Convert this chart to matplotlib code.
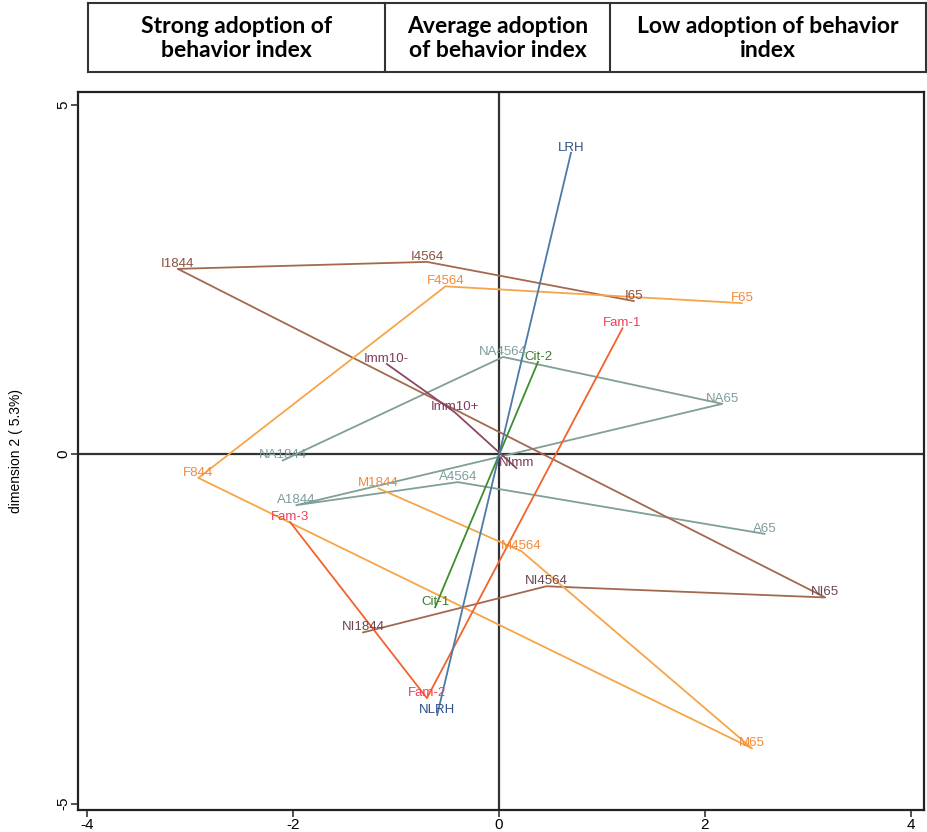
import matplotlib.pyplot as plt
from matplotlib.lines import Line2D

# ------------------------------------------------------------
# Category coordinates (dimension 1, dimension 2)
# each group is joined in data order, as Stata "connected" does
# ------------------------------------------------------------
imm_labels = ['Imm10-', 'Imm10+', 'NImm']
imm_x = [-1.09, -0.43, 0.17]
imm_y = [1.29, 0.60, -0.20]

cit_labels = ['Cit-1', 'Cit-2']
cit_x = [-0.62, 0.38]
cit_y = [-2.19, 1.32]

rh_labels = ['LRH', 'NLRH']
rh_x = [0.70, -0.60]
rh_y = [4.31, -3.73]

fam_labels = ['Fam-1', 'Fam-2', 'Fam-3']
fam_x = [1.20, -0.70, -2.03]
fam_y = [1.80, -3.49, -0.97]

sex_labels = ['M1844', 'M4564', 'M65', 'F844', 'F4564', 'F65']
sex_x = [-1.17, 0.22, 2.46, -2.92, -0.52, 2.36]
sex_y = [-0.49, -1.39, -4.21, -0.34, 2.40, 2.16]

act_labels = ['NA1844', 'NA4564', 'NA65', 'A1844', 'A4564', 'A65']
act_x = [-2.10, 0.04, 2.17, -1.97, -0.40, 2.58]
act_y = [-0.09, 1.39, 0.72, -0.73, -0.40, -1.14]

inc_labels = ['NI1844', 'NI4564', 'NI65', 'I1844', 'I4564', 'I65']
inc_x = [-1.32, 0.46, 3.17, -3.12, -0.70, 1.31]
inc_y = [-2.55, -1.89, -2.05, 2.65, 2.75, 2.19]

header_cols = ['Strong adoption of\nbehavior index',
               'Average adoption\nof behavior index',
               'Low adoption of behavior\nindex']

x_ticks = [-4, -2, 0, 2, 4]
y_ticks = [-5, 0, 5]

# --------------------------
# figure + axes
# --------------------------
W, H = 927, 832
fig = plt.figure(figsize=(W / 100, H / 100), dpi=100)
ax = fig.add_axes([78 / W, 1 - 810 / H, (924 - 78) / W, (810 - 92) / H])

lab_font = ['Liberation Sans', 'DejaVu Sans']
narrow = ['Liberation Sans Narrow', 'Liberation Sans', 'DejaVu Sans']

groups = [
    (act_labels, act_x, act_y, '#809f95', ['#7d9c9c'] * 6),
    (inc_labels, inc_x, inc_y, '#a3694f', ['#6a4552'] * 3 + ['#8a4f3e'] * 3),
    (sex_labels, sex_x, sex_y, '#f7a548', ['#f3893a'] * 6),
    (imm_labels, imm_x, imm_y, '#8c4863', ['#7e3b5c'] * 3),
    (fam_labels, fam_x, fam_y, '#f2622c', ['#ef3f5a'] * 3),
    (cit_labels, cit_x, cit_y, '#3f8d31', ['#3d7a30'] * 2),
    (rh_labels, rh_x, rh_y, '#4b7aa6', ['#2e4f88'] * 2),
]

# zero lines
ax.axhline(0, color='#333333', lw=1.6, zorder=1)
ax.axvline(0, color='#333333', lw=1.6, zorder=1)

for labels, xs, ys, lc, tcs in groups:
    ax.plot(xs, ys, color=lc, lw=1.3, zorder=2)
    for lab, x, y, tc in zip(labels, xs, ys, tcs):
        ax.annotate(lab, (x, y), xytext=(0, 1.5), textcoords='offset points',
                    ha='center', va='baseline', fontsize=9.5, color=tc,
                    family=lab_font, zorder=3)

ax.set_xlim(-4.09, 4.13)
ax.set_ylim(-5.09, 5.18)
ax.set_xticks(x_ticks)
ax.set_yticks(y_ticks)
ax.set_xticklabels([str(t) for t in x_ticks], family=narrow, fontsize=11)
ax.set_yticklabels([str(t) for t in y_ticks], family=narrow, fontsize=11,
                   rotation=90, va='center')
ax.tick_params(direction='out', length=5, width=1.2, color='#333333',
               top=False, right=False, pad=0.5)
for s in ax.spines.values():
    s.set_color('#222222')
    s.set_linewidth(1.6)

ax.set_ylabel('dimension 2 ( 5.3%)', family=narrow, fontsize=10, labelpad=24)

# --------------------------
# header table above the plot
# --------------------------
tx0, tx1, ty0, ty1 = 88, 926, 3, 72
col_edges = [88, 385, 610, 926]
fx = lambda px: px / W
fy = lambda py: 1 - py / H
for xa, xb, ya, yb in [(tx0, tx1, ty0, ty0), (tx0, tx1, ty1, ty1)]:
    fig.add_artist(Line2D([fx(xa), fx(xb)], [fy(ya), fy(yb)],
                          color='#333333', lw=1.5))
for e in col_edges:
    fig.add_artist(Line2D([fx(e), fx(e)], [fy(ty0), fy(ty1)],
                          color='#333333', lw=1.5))
for i, txt in enumerate(header_cols):
    cx = (col_edges[i] + col_edges[i + 1]) / 2
    fig.text(fx(cx), fy((ty0 + ty1) / 2 + 1), txt, ha='center', va='center',
             fontsize=16.5, fontweight='bold', family=['Lato', 'DejaVu Sans'],
             linespacing=1.15, color='black')

fig.savefig('out.png', dpi=100)
